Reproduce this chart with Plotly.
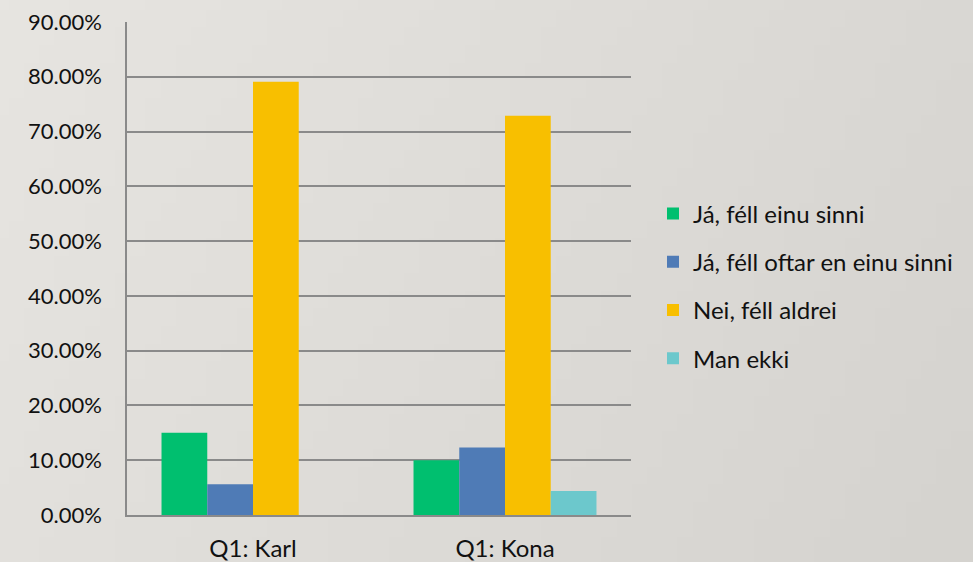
import base64
import struct
import zlib

import numpy as np
import plotly.graph_objects as go

# ---- data -------------------------------------------------------------
categories = ["Q1: Karl", "Q1: Kona"]
series_names = [
    "Já, féll einu sinni",
    "Já, féll oftar en einu sinni",
    "Nei, féll aldrei",
    "Man ekki",
]
val_einu_sinni = [0.150, 0.100]
val_oftar = [0.056, 0.123]
val_aldrei = [0.791, 0.729]
val_man_ekki = [0.0, 0.044]
series_values = [val_einu_sinni, val_oftar, val_aldrei, val_man_ekki]

y_ticks = [0.0, 0.1, 0.2, 0.3, 0.4, 0.5, 0.6, 0.7, 0.8, 0.9]

colors = ["#00bf6f", "#4f7bb6", "#f8bf00", "#6cc8cc"]


# ---- soft grey background (small PNG stretched over the page) --------
def gradient_png(w, h):
    xs = np.linspace(0, 1, w)[None, :]
    ys = np.linspace(0, 1, h)[:, None]
    light = np.array([231, 229, 225], dtype=float)
    dark = np.array([213, 211, 207], dtype=float)
    t = np.clip(0.75 * xs + 0.25 * ys, 0, 1)[..., None]
    img = (light * (1 - t) + dark * t).astype(np.uint8)
    raw = b"".join(b"\x00" + img[r].tobytes() for r in range(h))

    def chunk(tag, data):
        c = struct.pack(">I", len(data)) + tag + data
        return c + struct.pack(">I", zlib.crc32(tag + data) & 0xFFFFFFFF)

    png = b"\x89PNG\r\n\x1a\n"
    png += chunk(b"IHDR", struct.pack(">IIBBBBB", w, h, 8, 2, 0, 0, 0))
    png += chunk(b"IDAT", zlib.compress(raw, 9))
    png += chunk(b"IEND", b"")
    return "data:image/png;base64," + base64.b64encode(png).decode()


FONT = "Lato, 'DejaVu Sans', sans-serif"
TEXT = "#111111"

W, H = 973, 562
ML, MR, MT, MB = 127, 342, 22, 47
PW, PH = W - ML - MR, H - MT - MB

fig = go.Figure()
for i, (name, vals) in enumerate(zip(series_names, series_values)):
    fig.add_trace(
        go.Bar(
            x=categories,
            y=vals,
            name=name,
            marker=dict(color=colors[i], line=dict(width=0)),
            legendgroup=f"g{i}",
        )
    )

fig.update_layout(
    width=W,
    height=H,
    margin=dict(l=ML, r=MR, t=MT, b=MB),
    paper_bgcolor="#dfddd9",
    plot_bgcolor="rgba(0,0,0,0)",
    barmode="group",
    bargap=0.274,
    bargroupgap=0,
    font=dict(family=FONT, size=24, color=TEXT),
    images=[
        dict(
            source=gradient_png(64, 32),
            xref="paper",
            yref="paper",
            x=-ML / PW,
            y=1 + MT / PH,
            sizex=W / PW,
            sizey=H / PH,
            sizing="stretch",
            layer="below",
            xanchor="left",
            yanchor="top",
        )
    ],
    legend=dict(
        x=1.0 + 22 / PW,
        y=1 - (286 - MT) / PH,
        xanchor="left",
        yanchor="middle",
        traceorder="grouped",
        tracegroupgap=14,
        itemwidth=30,
        bgcolor="rgba(0,0,0,0)",
        font=dict(family=FONT, size=24, color=TEXT),
    ),
    showlegend=True,
)

fig.update_xaxes(
    automargin=False,
    showline=True,
    linecolor="#8a8a8a",
    linewidth=1.5,
    showgrid=False,
    ticks="",
    ticklabelstandoff=11,
    tickfont=dict(family=FONT, size=24, color=TEXT),
)
fig.update_yaxes(
    automargin=False,
    range=[0, 0.9],
    tickvals=y_ticks,
    tickformat=".2%",
    showline=True,
    linecolor="#8a8a8a",
    linewidth=1.5,
    showgrid=True,
    gridcolor="#8a8a8a",
    gridwidth=1.5,
    zeroline=False,
    ticks="",
    ticklabelstandoff=19,
    tickfont=dict(family=FONT, size=22, color=TEXT),
)

fig.write_html("out.html")
